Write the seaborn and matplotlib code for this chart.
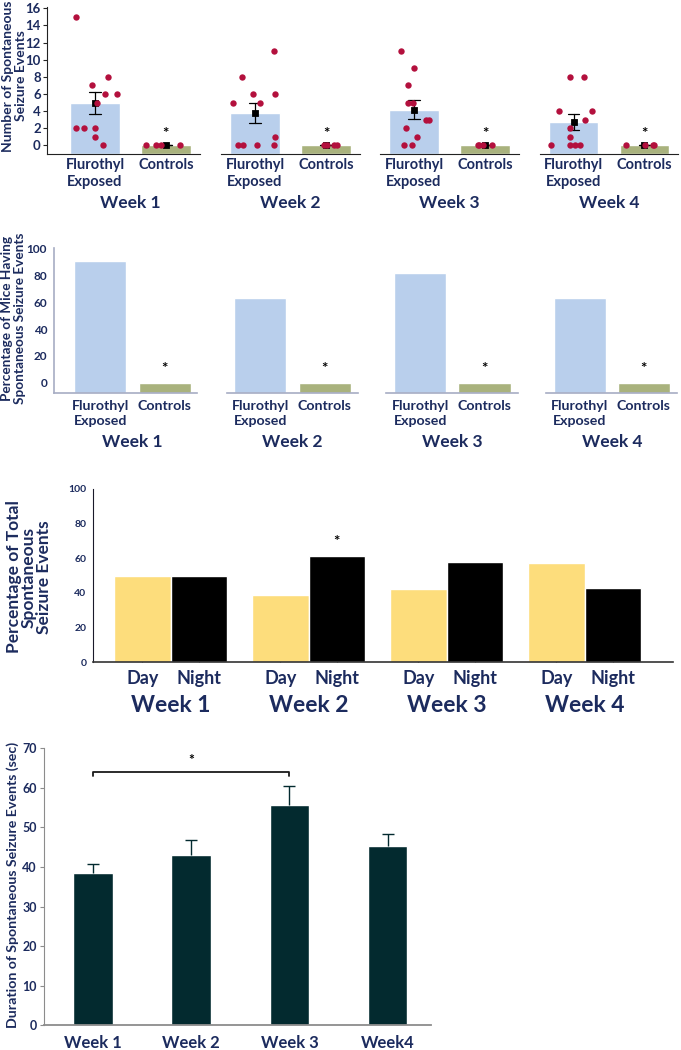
import numpy as np
import pandas as pd
import matplotlib
matplotlib.use("Agg")
import matplotlib.pyplot as plt
import seaborn as sns

# ---------------- data ----------------
groups = ["Flurothyl\nExposed", "Controls"]
week_labels = ["Week 1", "Week 2", "Week 3", "Week 4"]

# Panel A: number of spontaneous seizure events per mouse
flurothyl_w1 = [15, 8, 7, 6, 6, 5, 2, 2, 2, 1, 0]
flurothyl_w2 = [11, 8, 6, 6, 5, 5, 1, 0, 0, 0, 0]
flurothyl_w3 = [11, 9, 7, 5, 5, 3, 3, 2, 1, 0, 0]
flurothyl_w4 = [8, 8, 4, 4, 3, 2, 1, 0, 0, 0, 0]
controls_w1 = [0, 0, 0, 0]
controls_w2 = [0, 0, 0, 0]
controls_w3 = [0, 0, 0, 0]
controls_w4 = [0, 0, 0, 0]

# Panel B: percentage of mice having spontaneous seizure events
pct_mice_flurothyl = [90.9, 63.6, 81.8, 63.6]
pct_mice_controls = [0, 0, 0, 0]

# Panel C: percentage of total events, day vs night
periods = ["Day", "Night"]
day_pct = [50, 39, 42, 57]
night_pct = [50, 61, 58, 43]

# Panel D: duration of spontaneous seizure events (sec)
duration_labels = ["Week 1", "Week 2", "Week 3", "Week4"]
duration_mean = [38.4, 43.1, 55.6, 45.2]
duration_sem = [2.4, 3.7, 4.8, 3.1]

# ---------------- style ----------------
NAVY = "#1c2b5e"
BLUE = "#b9cfec"
GREEN = "#a9b27d"
DOT = "#b3103d"
YELLOW = "#fddd7c"
TEAL = "#032a2f"

sns.set_style("ticks")
plt.rcParams["font.family"] = ["Lato", "DejaVu Sans"]

W, H = 681, 1050
fig = plt.figure(figsize=(W / 100, H / 100), dpi=100)


def px_axes(x0, x1, y0, y1):
    return fig.add_axes([x0 / W, 1 - y1 / H, (x1 - x0) / W, (y1 - y0) / H])


def extend_bars_to(ax, ymin):
    for p in ax.patches:
        top = p.get_y() + p.get_height()
        p.set_y(ymin)
        p.set_height(top - ymin)


# ---------------- Panel A ----------------
np.random.seed(7)
flur_weeks = [flurothyl_w1, flurothyl_w2, flurothyl_w3, flurothyl_w4]
ctrl_weeks = [controls_w1, controls_w2, controls_w3, controls_w4]
a_cols = [(47, 200), (221, 360), (380, 519), (540, 678)]
a_xlim = [(-0.676, 1.48), (-0.48, 1.48), (-0.48, 1.48), (-0.48, 1.48)]
A_YMIN, A_YMAX = -1.0, 16.1
for i in range(4):
    ax = px_axes(a_cols[i][0], a_cols[i][1], 7.5, 153.9)
    fl, ct = flur_weeks[i], ctrl_weeks[i]
    df = pd.DataFrame({"group": [groups[0]] * len(fl) + [groups[1]] * len(ct),
                       "count": fl + ct})
    sns.barplot(data=df, x="group", y="count", hue="group", order=groups,
                hue_order=groups, palette=[BLUE, GREEN], errorbar=None,
                width=0.70, saturation=1, legend=False, ax=ax)
    extend_bars_to(ax, A_YMIN)
    sns.stripplot(data=df, x="group", y="count", order=groups, color=DOT,
                  size=4.6, jitter=0.32, linewidth=0, ax=ax, zorder=3)
    sns.pointplot(data=df, x="group", y="count", order=groups, color="black",
                  errorbar="se", capsize=0.16, marker="s", linestyle="none",
                  markersize=3.0, err_kws={"linewidth": 0.9}, ax=ax)
    ax.text(1, 0.55, "*", ha="center", va="bottom", fontsize=11,
            fontweight="bold", color="black")
    ax.set_xlim(*a_xlim[i])
    ax.set_ylim(A_YMIN, A_YMAX)
    ax.set_xlabel("")
    ax.set_ylabel("")
    ax.set_xticks([0, 1])
    ax.set_xticklabels(groups, fontsize=10.5, fontweight="bold", color=NAVY,
                       linespacing=1.25)
    ax.tick_params(axis="x", direction="in", length=3, pad=3, color="#333333")
    for s in ["top", "right"]:
        ax.spines[s].set_visible(False)
    ax.spines["bottom"].set_color("#222222")
    if i == 0:
        ax.set_yticks(range(0, 17, 2))
        ax.tick_params(axis="y", length=3, width=0.8, labelsize=9.5,
                       labelcolor=NAVY, pad=1.5)
        for t in ax.get_yticklabels():
            t.set_fontweight("bold")
        ax.spines["left"].set_color("#222222")
    else:
        ax.spines["left"].set_visible(False)
        ax.tick_params(axis="y", left=False, labelleft=False)
    ax.annotate(week_labels[i], xy=(0.5, 0), xycoords=("data", "axes fraction"),
                xytext=(0, -35.5), textcoords="offset points", ha="center",
                va="center", fontsize=12.5, fontweight="bold", color=NAVY)

fig.text(14.5 / W, 1 - 76 / H, "Number of Spontaneous\nSeizure Events",
         rotation=90, ha="center", va="center", fontsize=10,
         fontweight="bold", color=NAVY, linespacing=1.02)

# ---------------- Panel B ----------------
b_cols = [(54, 197), (227, 358), (386, 518), (546, 677)]
b_xlim = [(-0.72, 1.5), (-0.52, 1.52), (-0.53, 1.52), (-0.53, 1.52)]
B_YMIN, B_YMAX = -8, 100.5
B_SPINE = "#a7adc4"
for i in range(4):
    ax = px_axes(b_cols[i][0], b_cols[i][1], 248.3, 393.4)
    sns.barplot(x=groups, y=[pct_mice_flurothyl[i], pct_mice_controls[i]],
                hue=groups, order=groups, hue_order=groups,
                palette=[BLUE, GREEN], width=0.81, saturation=1,
                legend=False, ax=ax)
    extend_bars_to(ax, B_YMIN)
    ax.text(1, pct_mice_controls[i] + 10.2, "*", ha="center", va="center",
            fontsize=11, fontweight="bold", color="black")
    ax.set_xlim(*b_xlim[i])
    ax.set_ylim(B_YMIN, B_YMAX)
    ax.set_xticks([0, 1])
    ax.set_xticklabels(groups, fontsize=10.2, fontweight="bold", color=NAVY,
                       linespacing=1.25)
    ax.tick_params(axis="x", length=0, pad=5)
    for s in ["top", "right"]:
        ax.spines[s].set_visible(False)
    ax.spines["bottom"].set_color(B_SPINE)
    ax.spines["bottom"].set_linewidth(1.2)
    if i == 0:
        ax.set_yticks(range(0, 101, 20))
        ax.tick_params(axis="y", length=0, labelsize=8.5, labelcolor=NAVY, pad=5)
        for t in ax.get_yticklabels():
            t.set_fontweight("bold")
        ax.spines["left"].set_color(B_SPINE)
        ax.spines["left"].set_linewidth(1.2)
    else:
        ax.spines["left"].set_visible(False)
        ax.tick_params(axis="y", left=False, labelleft=False)
    ax.annotate(week_labels[i], xy=(0.5, 0), xycoords=("data", "axes fraction"),
                xytext=(0, -34.8), textcoords="offset points", ha="center",
                va="center", fontsize=12.5, fontweight="bold", color=NAVY)

fig.text(14 / W, 1 - 318 / H, "Percentage of Mice Having\nSpontaneous Seizure Events",
         rotation=90, ha="center", va="center", fontsize=9.8,
         fontweight="bold", color=NAVY, linespacing=1.1)

# ---------------- Panel C ----------------
ax = px_axes(93.3, 673, 489, 662)
df_c = pd.DataFrame({"week": week_labels * 2,
                     "period": ["Day"] * 4 + ["Night"] * 4,
                     "pct": day_pct + night_pct})
sns.barplot(data=df_c, x="week", y="pct", hue="period", order=week_labels,
            hue_order=periods, palette=[YELLOW, "black"], width=0.82,
            saturation=1, errorbar=None, legend=False, ax=ax)
centers = sorted((p.get_x() + p.get_width() / 2, p.get_height()) for p in ax.patches)
ax.set_xlim(-0.56, 3.64)
ax.set_ylim(0, 100)
ax.set_xticks([c for c, _ in centers])
ax.set_xticklabels(periods * 4, fontsize=13, fontweight="bold", color=NAVY)
ax.tick_params(axis="x", direction="in", length=3, pad=6, color="#555555")
ax.set_yticks(range(0, 101, 20))
ax.tick_params(axis="y", length=0, labelsize=7.5, labelcolor=NAVY, pad=5)
for t in ax.get_yticklabels():
    t.set_fontweight("bold")
ax.set_xlabel("")
ax.set_ylabel("")
for s in ["top", "right"]:
    ax.spines[s].set_visible(False)
ax.spines["left"].set_color("#1a1a2a")
ax.spines["bottom"].set_color("#333333")
ax.spines["bottom"].set_linewidth(1.2)
star_x, star_h = centers[3]
ax.text(star_x, star_h + 4.5, "*", ha="center", va="bottom", fontsize=11,
        fontweight="bold", color="black")
for i, wk in enumerate(week_labels):
    ax.annotate(wk, xy=(i, 0), xycoords=("data", "axes fraction"),
                xytext=(0, -31.5), textcoords="offset points", ha="center",
                va="center", fontsize=16.5, fontweight="bold", color=NAVY)
fig.text(29 / W, 1 - 577 / H, "Percentage of Total\nSpontaneous\nSeizure Events",
         rotation=90, ha="center", va="center", fontsize=12.5,
         fontweight="bold", color=NAVY, linespacing=0.9)

# ---------------- Panel D ----------------
ax = px_axes(43.7, 431, 748.3, 1025.3)
sns.barplot(x=duration_labels, y=duration_mean, color=TEAL, width=0.4,
            saturation=1, ax=ax)
eb = ax.errorbar(x=range(len(duration_mean)), y=duration_mean,
                 yerr=[[0] * len(duration_sem), duration_sem], fmt="none",
                 ecolor=TEAL, elinewidth=1, capsize=4.5, capthick=1)
for cap in eb[1]:
    if np.allclose(cap.get_ydata(), duration_mean):
        cap.set_visible(False)
bracket_top = duration_mean[2] + duration_sem[2] + 3.6
ax.plot([0, 0, 2, 2], [bracket_top - 1.1, bracket_top, bracket_top, bracket_top - 1.1],
        color="#1a1a1a", lw=1.3)
ax.text(1, bracket_top + 1.6, "*", ha="center", va="bottom", fontsize=10,
        fontweight="bold", color="black")
ax.set_xlim(-0.5, 3.44)
ax.set_ylim(0, 70)
ax.set_yticks(range(0, 71, 10))
ax.tick_params(axis="y", length=3, labelsize=9, labelcolor=NAVY, pad=2,
               color="#8c8c8c")
for t in ax.get_yticklabels():
    t.set_fontweight("bold")
ax.set_xticks(range(4))
ax.set_xticklabels(duration_labels, fontsize=12, fontweight="bold", color=NAVY)
ax.tick_params(axis="x", length=0, pad=7)
ax.set_xlabel("")
ax.set_ylabel("")
for s in ["top", "right"]:
    ax.spines[s].set_visible(False)
ax.spines["left"].set_color("#8c8c8c")
ax.spines["bottom"].set_color("#8c8c8c")
ax.spines["bottom"].set_linewidth(1.3)
fig.text(12.5 / W, 1 - 885 / H, "Duration of Spontaneous Seizure Events (sec)",
         rotation=90, ha="center", va="center", fontsize=10.2,
         fontweight="bold", color=NAVY)

fig.savefig("out.png", dpi=100, facecolor="white")
